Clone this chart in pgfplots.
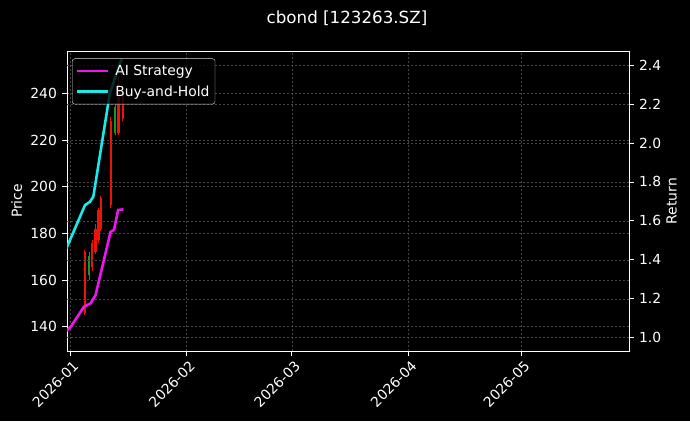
\documentclass[border=0pt]{standalone}
\usepackage{fontspec}
\setmainfont{DejaVu Sans}
\usepackage{pgfplots}
\pgfplotsset{compat=1.18}
\definecolor{aimag}{RGB}{240,20,240}
\definecolor{bhcyan}{RGB}{25,235,235}
\definecolor{cred}{RGB}{235,20,10}
\definecolor{cgreen}{RGB}{30,150,30}
\definecolor{gridc}{RGB}{68,68,68}
\newcommand{\tfont}{\fontsize{13.9}{16.7}\selectfont}
\pgfplotsset{
  base/.style={
    at={(67pt,70pt)}, anchor=south west, scale only axis,
    width=562pt, height=300pt,
    xmin=-0.8, xmax=148.7,
    axis line style={white, line width=0.8pt},
    tick style={white, line width=0.8pt},
    major tick length=4.9pt, tick align=outside,
    ticklabel style={text=white, font=\tfont},
    /pgf/number format/assume math mode=true,
    major grid style={gridc, line width=0.55pt, dash pattern=on 2pt off 2pt},
    label style={text=white, font=\tfont},
  },
  candle/.style={#1, line width=2.2pt, forget plot},
  wick/.style={#1, line width=0.9pt, forget plot},
}
\begin{document}
\begin{tikzpicture}
\useasboundingbox (0pt,0pt) rectangle (690pt,421pt);
\fill[black] (0pt,0pt) rectangle (690pt,421pt);
\node[text=white, font=\fontsize{16.7}{20}\selectfont] at (347pt,403pt) {cbond [123263.SZ]};
\begin{axis}[base,
  ymin=129.6, ymax=258.1,
  xtick={0,31,59,90,120},
  xticklabels={2026-01,2026-02,2026-03,2026-04,2026-05},
  xtick pos=bottom, ytick pos=left,
  ytick={140,160,180,200,220,240},
  xmajorgrids, ymajorgrids,
  xticklabel style={rotate=45, anchor=north east, inner sep=1pt, yshift=-3pt},
  yticklabel style={inner sep=1pt, xshift=-4pt},
  ylabel={Price},
  ylabel style={at={(axis description cs:-0.0895,0.5)}, anchor=center},
]
% candles: wicks then bodies
\addplot[wick=cred] coordinates {(3.9,145) (3.9,173)};
\addplot[candle=cred] coordinates {(3.9,146) (3.9,172)};
\addplot[wick=cgreen] coordinates {(5.05,160) (5.05,172)};
\addplot[candle=cgreen] coordinates {(5.05,162) (5.05,170.5)};
\addplot[wick=cred] coordinates {(5.9,164) (5.9,177)};
\addplot[candle=cred] coordinates {(5.9,165.7) (5.9,175.7)};
\addplot[wick=cred] coordinates {(6.8,171) (6.8,184)};
\addplot[candle=cred] coordinates {(6.8,172) (6.8,182)};
\addplot[wick=cred] coordinates {(7.6,176) (7.6,191)};
\addplot[candle=cred] coordinates {(7.6,177) (7.6,190)};
\addplot[wick=cred] coordinates {(8.2,181) (8.2,196)};
\addplot[candle=cred] coordinates {(8.2,182) (8.2,195)};
\addplot[wick=cred] coordinates {(10.8,191) (10.8,230)};
\addplot[candle=cred] coordinates {(10.8,192) (10.8,228)};
\addplot[wick=cgreen] coordinates {(12.0,222) (12.0,236)};
\addplot[candle=cgreen] coordinates {(12.0,223) (12.0,234)};
\addplot[wick=cred] coordinates {(12.9,222) (12.9,247)};
\addplot[candle=cred] coordinates {(12.9,223) (12.9,244)};
\addplot[wick=cred] coordinates {(14.0,228) (14.0,242)};
\addplot[candle=cred] coordinates {(14.0,229) (14.0,240)};
\end{axis}
\begin{axis}[base,
  ymin=0.932, ymax=2.472,
  axis y line*=right, axis x line=none,
  ytick={1.0,1.2,1.4,1.6,1.8,2.0,2.2,2.4},
  yticklabel={\pgfmathprintnumber[fixed,fixed zerofill,precision=1]{\tick}},
  ymajorgrids,
  yticklabel style={inner sep=1pt, xshift=4pt},
  ylabel={Return},
  ylabel style={at={(axis description cs:1.076,0.5)}, anchor=center, rotate=0},
  legend style={at={(axis description cs:0.009,0.975)}, anchor=north west,
    fill=black, fill opacity=0.8, text opacity=1, draw=white!85!black,
    rounded corners=2.5pt, text=white, font=\tfont,
    inner xsep=3pt, inner ysep=4pt, row sep=3.5pt,
    nodes={inner sep=2.5pt}},
  legend cell align=left,
  legend image code/.code={\draw[#1, line width=2.6pt] (0pt,0pt) -- (31pt,0pt); \path (35pt,0pt);},
]
\addplot[aimag, line width=2.6pt] coordinates {
(-1.0,1.035) (0.2,1.056) (3.7,1.159) (5.5,1.177) (6.8,1.219)
(10.8,1.544) (11.7,1.553) (12.8,1.656) (14.2,1.659)};
\addlegendentry{AI Strategy}
\addplot[bhcyan, line width=2.6pt] coordinates {
(-1.0,1.457) (4.0,1.681) (5.3,1.698) (6.2,1.724) (10.6,2.255)
(11.5,2.306) (13.3,2.41) (13.8,2.43)};
\addlegendentry{Buy-and-Hold}
\end{axis}
\end{tikzpicture}
\end{document}
